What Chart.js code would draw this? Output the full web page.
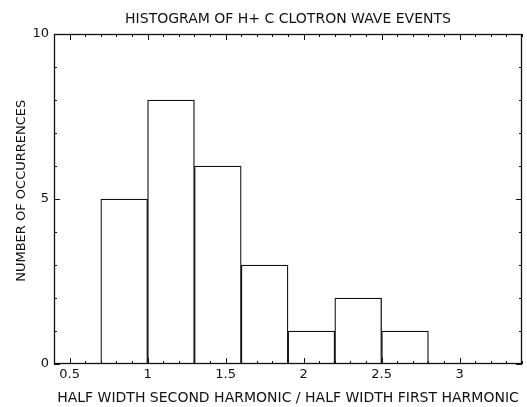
<!DOCTYPE html>
<html>
<head>
<meta charset="utf-8">
<script src="https://cdn.jsdelivr.net/npm/chart.js@4/dist/chart.umd.min.js"></script>
<style>
  html, body { margin: 0; padding: 0; background: #fff; }
  #wrap { width: 527px; height: 407px; }
</style>
</head>
<body>
<div id="wrap"><canvas id="hist"></canvas></div>
<script>
// histogram bins (lower/upper edges) and counts per bin
const binEdges = [0.7, 1.0, 1.3, 1.6, 1.9, 2.2, 2.5, 2.8];
const counts = [5, 8, 6, 3, 1, 2, 1];

const xTickValues = [0.5, 1, 1.5, 2, 2.5, 3];
const xTickLabels = ['0.5', '1', '1.5', '2', '2.5', '3'];
const yTickValues = [0, 5, 10];
const yTickLabels = ['0', '5', '10'];

const INK = '#111';
const FONT = 'DejaVu Sans';

// one bar per bin, centred between its edges
const points = counts.map((c, i) => ({ x: (binEdges[i] + binEdges[i + 1]) / 2, y: c }));

// frame + inward tick marks on all four sides
const frameTicks = {
    id: 'frameTicks',
    afterDatasetsDraw(chart) {
        const { ctx, chartArea: a, scales: { x, y } } = chart;
        ctx.save();
        ctx.strokeStyle = INK;
        ctx.lineWidth = 1.3;
        ctx.strokeRect(a.left + 0.5, a.top + 0.5, a.width - 1, a.height - 1);
        ctx.lineWidth = 1;
        ctx.beginPath();
        for (let i = 4; i <= 34; i++) {
            const px = Math.round(x.getPixelForValue(i / 10)) + 0.5;
            const len = i % 5 === 0 ? 6 : 3;
            ctx.moveTo(px, a.bottom);
            ctx.lineTo(px, a.bottom - len);
            ctx.moveTo(px, a.top);
            ctx.lineTo(px, a.top + len);
        }
        for (let v = 0; v <= 10; v++) {
            const py = Math.round(y.getPixelForValue(v)) + 0.5;
            const len = v % 5 === 0 ? 6 : 3;
            ctx.moveTo(a.left, py);
            ctx.lineTo(a.left + len, py);
            ctx.moveTo(a.right, py);
            ctx.lineTo(a.right - len, py);
        }
        ctx.stroke();
        ctx.restore();
    }
};

new Chart(document.getElementById('hist'), {
    type: 'bar',
    data: {
        datasets: [{
            data: points,
            backgroundColor: '#fff',
            borderColor: INK,
            borderWidth: 1.3,
            barPercentage: 1,
            categoryPercentage: 1
        }]
    },
    options: {
        responsive: true,
        maintainAspectRatio: false,
        animation: false,
        layout: { padding: { left: 0, right: 5, top: 0, bottom: 0 } },
        plugins: {
            legend: { display: false },
            tooltip: { enabled: false },
            title: {
                display: true,
                text: 'HISTOGRAM OF H+ C CLOTRON WAVE EVENTS',
                fullSize: false,
                color: INK,
                font: { family: FONT, size: 14, weight: 'normal', lineHeight: 1.2 },
                padding: { top: 11, bottom: 6.2 }
            }
        },
        scales: {
            x: {
                type: 'linear',
                min: 0.4,
                max: 3.4,
                offset: false,
                grid: { display: false, drawTicks: false },
                border: { display: false },
                afterBuildTicks: (scale) => { scale.ticks = xTickValues.map(v => ({ value: v })); },
                afterFit: (scale) => { scale.height = 43; },
                ticks: {
                    color: INK,
                    padding: 3,
                    maxRotation: 0,
                    font: { family: FONT, size: 13 },
                    callback: (value) => xTickLabels[xTickValues.indexOf(value)]
                },
                title: {
                    display: true,
                    text: 'HALF WIDTH SECOND HARMONIC / HALF WIDTH FIRST HARMONIC',
                    color: INK,
                    font: { family: FONT, size: 14, lineHeight: 1.2 },
                    padding: { top: 0, bottom: 0 }
                }
            },
            y: {
                min: 0,
                max: 10,
                grid: { display: false, drawTicks: false },
                border: { display: false },
                afterBuildTicks: (scale) => { scale.ticks = yTickValues.map(v => ({ value: v })); },
                afterFit: (scale) => { scale.width = 54; },
                ticks: {
                    color: INK,
                    padding: 5,
                    font: { family: FONT, size: 13 },
                    callback: (value) => yTickLabels[yTickValues.indexOf(value)]
                },
                title: {
                    display: true,
                    text: '    NUMBER OF OCCURRENCES',
                    color: INK,
                    font: { family: FONT, size: 13, lineHeight: 1.2 },
                    padding: { top: 14, bottom: 0 }
                }
            }
        }
    },
    plugins: [frameTicks]
});
</script>
</body>
</html>
